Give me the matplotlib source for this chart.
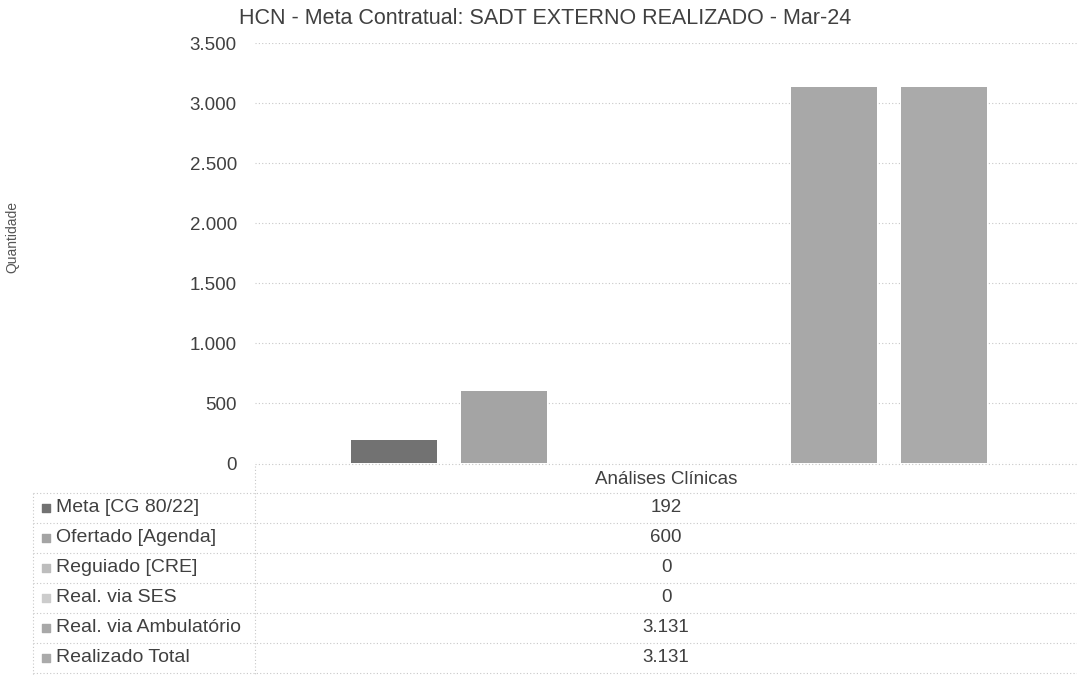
import matplotlib
matplotlib.use('Agg')
import matplotlib.pyplot as plt
from matplotlib.ticker import FuncFormatter
import numpy as np

plt.rcParams['font.family'] = ['Liberation Sans', 'DejaVu Sans']

title = 'HCN - Meta Contratual: SADT EXTERNO REALIZADO - Mar-24'
category = 'Análises Clínicas'
series = ['Meta [CG 80/22]', 'Ofertado [Agenda]', 'Reguiado [CRE]',
          'Real. via SES', 'Real. via Ambulatório', 'Realizado Total']
values = [192, 600, 0, 0, 3131, 3131]
colors = ['#727272', '#a4a4a4', '#bdbdbd', '#cccccc', '#a8a8a8', '#aaaaaa']
yticks = [0, 500, 1000, 1500, 2000, 2500, 3000, 3500]

W, H = 1077, 676
fig = plt.figure(figsize=(W / 100, H / 100), dpi=100)
txt = '#404040'
grid = dict(color='#c8c8c8', lw=0.8, ls=(0, (1, 2)))

def fmt(v):
    return f'{int(v):,}'.replace(',', '.')

# main plot area (pixel boxes from the reference)
left, right, top, bottom = 255, 1077, 43, 463
ax = fig.add_axes([left / W, 1 - bottom / H, (right - left) / W, (bottom - top) / H])
step = 110 / (right - left)
width = 86 / (right - left)
offs = (np.arange(len(series)) - (len(series) - 1) / 2) * step + 0.004
for o, v, c in zip(offs, values, colors):
    ax.bar(o, v, width, color=c, zorder=2)
ax.set_xlim(-0.5, 0.5)
ax.set_ylim(0, 3500)
ax.set_yticks(yticks)
ax.yaxis.set_major_formatter(FuncFormatter(lambda v, p: fmt(v)))
ax.tick_params(axis='y', length=0, pad=13, labelsize=13.5, labelcolor=txt)
ax.set_xticks([])
for s in ax.spines.values():
    s.set_visible(False)
for t in yticks:
    ax.axhline(t, zorder=1, **grid)

fig.text(545 / W, 1 - 19 / H, title, ha='center', va='center', fontsize=15.5, color=txt)
fig.text(12 / W, 1 - 237 / H, 'Quantidade', rotation=90, ha='center', va='center',
         fontsize=10, color='#555555')

# data table below the plot
tx = fig.add_axes([0, 0, 1, 1 - bottom / H])
tx.set_xlim(0, W)
tx.set_ylim(H, bottom)
tx.axis('off')
row_h = 30
head_bot = 493
tx.plot([left, W], [bottom + 1, bottom + 1], **grid)
tx.plot([33, W], [head_bot, head_bot], **grid)
tx.plot([left, left], [bottom + 3, H], **grid)
tx.plot([33, 33], [head_bot, H], **grid)
tx.text((left + W) / 2, (bottom + head_bot) / 2 + 1, category, ha='center', va='center',
        fontsize=13.5, color=txt)
for i, (name, v, c) in enumerate(zip(series, values, colors)):
    y0 = head_bot + i * row_h
    yc = y0 + row_h / 2
    tx.plot([33, W], [y0 + row_h, y0 + row_h], **grid)
    tx.scatter([46], [yc], marker='s', s=30, color=c)
    tx.text(56, yc, name, ha='left', va='center', fontsize=14, color=txt)
    tx.text((left + W) / 2, yc, fmt(v), ha='center', va='center', fontsize=13.5, color=txt)

fig.savefig('out.png', dpi=100, facecolor='white')
